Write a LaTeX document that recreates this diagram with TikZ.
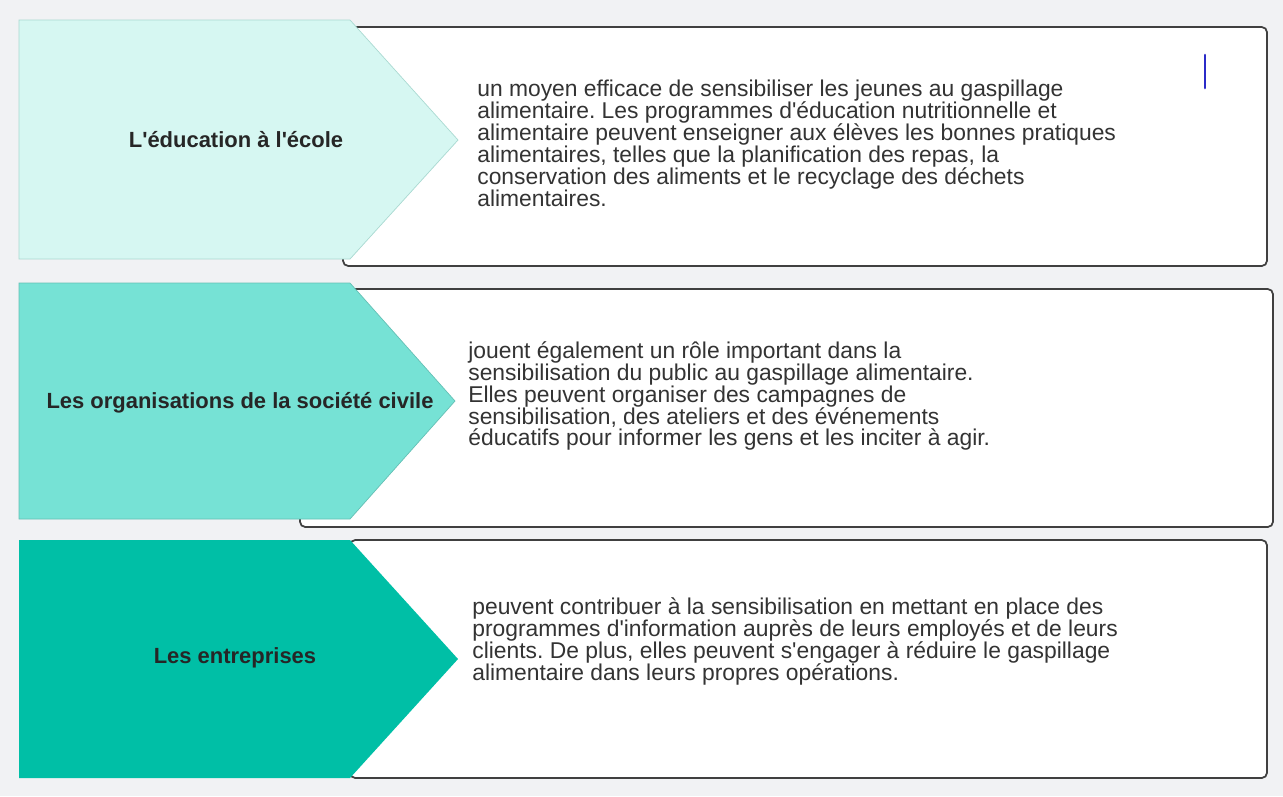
\documentclass[tikz,border=0pt]{standalone}
\usepackage{fontspec}
\setmainfont{Liberation Sans}[Ligatures=TeXOff]
\definecolor{myMint}{HTML}{D6F7F2}
\definecolor{myMintLine}{HTML}{A9D9D1}
\definecolor{myTeal}{HTML}{76E2D5}
\definecolor{myGreen}{HTML}{00BFA6}
\definecolor{myBack}{HTML}{F1F2F4}
\definecolor{myText}{HTML}{333333}
\definecolor{myCursor}{HTML}{2B2BC8}
\frenchspacing

\begin{document}
\begin{tikzpicture}[x=0.02cm, y=-0.02cm]

  \tikzstyle{Bx}=[draw=black!75, fill=white, line width=1pt, rounded corners=3pt]
  \tikzstyle{L}=[text=black!85, font=\bfseries\fontsize{12.5}{14}\selectfont, align=center]
  \tikzstyle{T}=[text=myText, font=\fontsize{13}{12.5}\selectfont, align=left, anchor=west, inner sep=0pt]

  % background
  \fill[myBack] (0,0) rectangle (1283,796);
  \useasboundingbox (0,0) rectangle (1283,796);

  % white boxes
  \draw[Bx] (343,27) rectangle (1267,266);
  \draw[Bx] (300,289) rectangle (1273,527);
  \draw[Bx] (350,540) rectangle (1267,778);

  % arrows
  \draw[fill=myMint, draw=myMintLine] (19,20) -- (350,20) -- (458,140) -- (350,259) -- (19,259) -- cycle;
  \draw[fill=myTeal, draw=myTeal!85!black] (19,283) -- (350,283) -- (455,401) -- (350,519) -- (19,519) -- cycle;
  \fill[myGreen] (19,540) -- (350,540) -- (458,659) -- (350,778) -- (19,778) -- cycle;

  \node[L] at (236,140) (ecole) {L'éducation à l'école};
  \node[L] at (240,403) (societe) {Les organisations de la société civile};
  \node[L] at (235,658) (entreprises) {Les entreprises};

  \node[T] at (477,143) (ecoletext) {un moyen efficace de sensibiliser les jeunes au gaspillage\\
    alimentaire. Les programmes d'éducation nutritionnelle et\\
    alimentaire peuvent enseigner aux élèves les bonnes pratiques\\
    alimentaires, telles que la planification des repas, la\\
    conservation des aliments et le recyclage des déchets\\
    alimentaires.};
  \node[T] at (468,396) (societetext) {jouent également un rôle important dans la\\
    sensibilisation du public au gaspillage alimentaire.\\
    Elles peuvent organiser des campagnes de\\
    sensibilisation, des ateliers et des événements\\
    éducatifs pour informer les gens et les inciter à agir.};
  \node[T] at (472,641) (entreprisestext) {peuvent contribuer à la sensibilisation en mettant en place des\\
    programmes d'information auprès de leurs employés et de leurs\\
    clients. De plus, elles peuvent s'engager à réduire le gaspillage\\
    alimentaire dans leurs propres opérations.};

  % cursor
  \draw[myCursor, line width=1.5pt, line cap=round] (1205,55) -- (1205,88);

\end{tikzpicture}
\end{document}
